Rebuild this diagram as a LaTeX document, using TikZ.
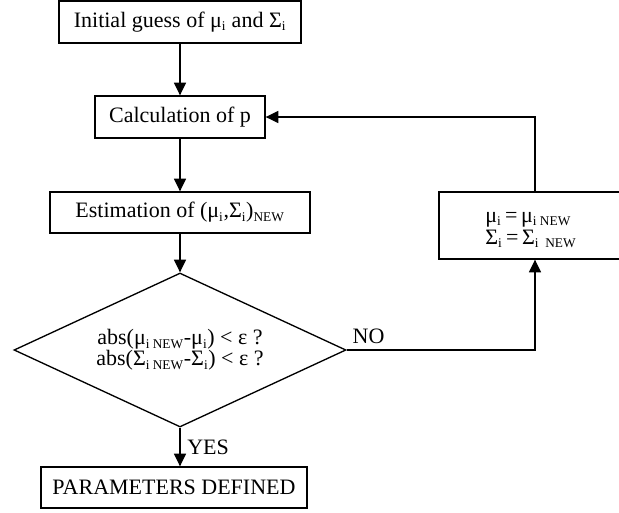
\documentclass[tikz,border=0pt]{standalone}
\usepackage{fontspec}
\setmainfont{Liberation Serif}
\usetikzlibrary{
    shapes.geometric,
    arrows.meta,
    positioning
}
\newcommand{\lo}[1]{\textsubscript{\fontsize{10}{10}\selectfont #1}}

\begin{document}
\begin{tikzpicture}[x=0.75pt, y=-0.75pt,
    box/.style={draw, line width=1pt, rectangle, inner sep=0pt, align=center},
    decision/.style={draw, line width=1pt, diamond, inner sep=0pt, aspect=2.16, align=center},
    flow/.style={-{Triangle[length=9.5pt, width=9pt]}, line width=1pt},
    every node/.style={font=\fontsize{16.5}{14.5}\selectfont}]
    \useasboundingbox (0,0) rectangle (619,512);
    \node[box, minimum width=181.5pt, minimum height=31.5pt] (init) at (180, 22) {Initial guess of μ\lo{i} and Σ\lo{i}};
    \node[box, minimum width=127.5pt, minimum height=31.5pt] (calc) at (180, 117) {Calculation of p};
    \node[box, minimum width=195pt, minimum height=30.75pt] (est) at (180, 212.5) {Estimation of (μ\lo{i},Σ\lo{i})\lo{NEW}};
    \node[decision, minimum width=249pt, minimum height=115.5pt] (test) at (180, 350) {abs(μ\lo{i NEW}-μ\lo{i}) \textless{} ε ?\\abs(Σ\lo{i NEW}-Σ\lo{i}) \textless{} ε ?};
    \node[box, minimum width=199.5pt, minimum height=30.75pt] (params) at (174, 487.5) {PARAMETERS DEFINED};
    \node[box, minimum width=144pt, minimum height=50.25pt] (update) at (535, 225.5) {};
    \node[align=left, inner sep=0pt, anchor=west] (updtext) at (485, 230) {μ\lo{i}\,=\,μ\lo{i NEW}\\[2pt]Σ\lo{i}\,=\,Σ\lo{i\ \ NEW}};
    % main line
    \draw[flow] (init) -- (calc);
    \draw[flow] (calc) -- (est);
    \draw[flow] (est) -- (test);
    \draw[flow] (test.south) -- (test.south |- params.north) node[midway, right, inner sep=5pt] {YES};
    % loop back
    \draw[flow] (test.east) node[above right, inner sep=4pt] {NO} -| (update.south);
    \draw[flow] (update.north) |- (calc.east);
\end{tikzpicture}
\end{document}
